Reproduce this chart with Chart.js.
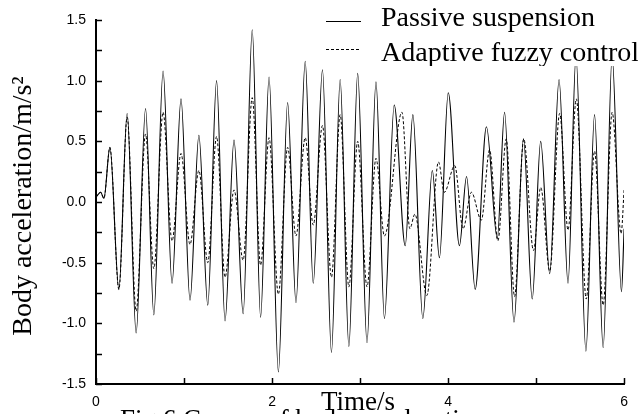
<!DOCTYPE html>
<html>
<head>
<meta charset="utf-8">
<script src="https://cdn.jsdelivr.net/npm/chart.js@4.4.0/dist/chart.umd.min.js"></script>
<style>
    body { margin: 0; background: #fff; }
    #wrap { width: 638px; height: 414px; }
</style>
</head>
<body>
<div id="wrap"><canvas id="chart" width="638" height="414"></canvas></div>
<script>
// peaks / troughs (time in s, acceleration in m/s^2)
const passiveTime = [0, 0.053, 0.09, 0.158, 0.26, 0.354, 0.456, 0.563, 0.657, 0.762, 0.864, 0.966,
    1.068, 1.169, 1.27, 1.37, 1.466, 1.568, 1.672, 1.775, 1.87, 1.966, 2.072, 2.177, 2.272, 2.377,
    2.468, 2.573, 2.675, 2.774, 2.873, 2.973, 3.079, 3.181, 3.277, 3.388, 3.513, 3.6, 3.713, 3.821,
    3.902, 4.002, 4.129, 4.21, 4.308, 4.436, 4.559, 4.642, 4.749, 4.857, 4.956, 5.052, 5.155, 5.261,
    5.363, 5.453, 5.566, 5.664, 5.762, 5.864, 5.97, 6.0];
const passiveAccel = [0.04, 0.08, 0.03, 0.45, -0.72, 0.73, -1.08, 0.77, -0.93, 1.08, -0.67, 0.85,
    -0.81, 0.55, -0.85, 1.00, -0.98, 0.51, -0.92, 1.42, -0.95, 1.03, -1.40, 0.82, -0.83, 1.16,
    -0.67, 1.09, -1.24, 1.01, -1.19, 1.06, -1.16, 0.99, -0.96, 0.80, -0.36, 0.72, -0.96, 0.26,
    -0.46, 0.90, -0.36, 0.21, -0.72, 0.62, -0.30, 0.74, -0.99, 0.52, -0.80, 0.50, -0.59, 1.01,
    -0.67, 1.20, -1.23, 0.72, -1.20, 1.20, -0.74, -0.22];

const fuzzyTime = [0, 0.053, 0.09, 0.158, 0.26, 0.354, 0.456, 0.563, 0.657, 0.762, 0.864, 0.966,
    1.068, 1.169, 1.27, 1.37, 1.466, 1.568, 1.672, 1.775, 1.87, 1.966, 2.072, 2.177, 2.272, 2.377,
    2.468, 2.573, 2.675, 2.774, 2.873, 2.973, 3.079, 3.181, 3.277, 3.476, 3.566, 3.623, 3.759, 3.891,
    3.957, 4.076, 4.17, 4.265, 4.378, 4.472, 4.566, 4.661, 4.755, 4.86, 4.97, 5.053, 5.155, 5.268,
    5.363, 5.457, 5.57, 5.664, 5.762, 5.864, 5.966, 6.0];
const fuzzyAccel = [0.04, 0.08, 0.03, 0.45, -0.72, 0.70, -0.90, 0.56, -0.55, 0.74, -0.32, 0.40,
    -0.35, 0.26, -0.50, 0.54, -0.62, 0.10, -0.48, 0.86, -0.52, 0.53, -0.76, 0.45, -0.28, 0.53,
    -0.19, 0.63, -0.62, 0.72, -0.70, 0.50, -0.70, 0.36, -0.28, 0.74, -0.22, -0.10, -0.77, 0.33,
    0.08, 0.30, -0.22, 0.08, -0.15, 0.43, -0.32, 0.52, -0.78, 0.52, -0.40, 0.12, -0.57, 0.73,
    -0.23, 0.85, -0.80, 0.42, -0.85, 0.74, -0.26, 0.10];

const seriesNames = ["Passive suspension", "Adaptive fuzzy control"];
const xTitle = "Time/s";
const yTitle = "Body acceleration/m/s\u00b2";
const caption = "Fig.6 Curves of body acceleration";

const serif = '"Liberation Serif", "Times New Roman", serif';
const sans = '"Liberation Sans", Arial, sans-serif';

function toPoints(xs, ys) {
    return xs.map((x, i) => ({ x: x, y: ys[i] }));
}

// tick marks pointing into the plot, like the original software draws them
const inwardTicks = {
    id: 'inwardTicks',
    afterDatasetsDraw(chart) {
        const ctx = chart.ctx;
        const area = chart.chartArea;
        ctx.save();
        ctx.strokeStyle = '#000';
        ctx.lineWidth = 1.5;
        const xs = chart.scales.x;
        xs.ticks.forEach((t, i) => {
            const px = Math.round(xs.getPixelForTick(i)) + 0.5;
            ctx.beginPath();
            ctx.moveTo(px, area.bottom);
            ctx.lineTo(px, area.bottom - 6);
            ctx.stroke();
        });
        const ys = chart.scales.y;
        ys.ticks.forEach((t, i) => {
            const py = Math.round(ys.getPixelForTick(i)) + 0.5;
            ctx.beginPath();
            ctx.moveTo(area.left, py);
            ctx.lineTo(area.left + 6, py);
            ctx.stroke();
        });
        ctx.restore();
    }
};

// legend box sits over the curves, plus titles and caption
const overlayText = {
    id: 'overlayText',
    afterDraw(chart) {
        const ctx = chart.ctx;
        ctx.save();
        ctx.fillStyle = '#fff';
        ctx.fillRect(318, 0, 320, 66);
        ctx.beginPath();
        ctx.rect(318, 0, 320, 66);
        ctx.clip();
        ctx.strokeStyle = '#000';
        ctx.lineWidth = 1;
        ctx.beginPath();
        ctx.moveTo(326, 21.5);
        ctx.lineTo(361, 21.5);
        ctx.stroke();
        ctx.setLineDash([3, 2]);
        ctx.beginPath();
        ctx.moveTo(326, 49.5);
        ctx.lineTo(361, 49.5);
        ctx.stroke();
        ctx.setLineDash([]);
        ctx.fillStyle = '#000';
        ctx.font = '28px ' + serif;
        ctx.textAlign = 'left';
        ctx.textBaseline = 'alphabetic';
        ctx.fillText(seriesNames[0], 381, 26);
        ctx.fillText(seriesNames[1], 381, 61);
        ctx.restore();

        ctx.save();
        ctx.fillStyle = '#000';
        ctx.font = '27px ' + serif;
        ctx.textAlign = 'left';
        ctx.fillText(caption, 120, 428);
        ctx.textAlign = 'center';
        ctx.fillText(xTitle, 358, 410);
        ctx.font = '28px ' + serif;
        ctx.translate(31, 206);
        ctx.rotate(-Math.PI / 2);
        ctx.fillText(yTitle, 0, 0);
        ctx.restore();
    }
};

const config = {
    type: 'line',
    data: {
        datasets: [{
            label: seriesNames[0],
            data: toPoints(passiveTime, passiveAccel),
            borderColor: '#000',
            borderWidth: 1.1,
            pointRadius: 0,
            cubicInterpolationMode: 'monotone',
            fill: false
        }, {
            label: seriesNames[1],
            data: toPoints(fuzzyTime, fuzzyAccel),
            borderColor: '#000',
            borderWidth: 1,
            borderDash: [3, 2],
            pointRadius: 0,
            cubicInterpolationMode: 'monotone',
            fill: false
        }]
    },
    options: {
        responsive: false,
        animation: false,
        layout: { padding: { left: 0, top: 20, right: 12, bottom: 0 } },
        plugins: {
            legend: { display: false },
            tooltip: { enabled: false }
        },
        scales: {
            x: {
                type: 'linear',
                min: 0,
                max: 6,
                grid: { display: false, drawTicks: false },
                border: { display: true, color: '#000', width: 2 },
                ticks: {
                    stepSize: 1,
                    autoSkip: false,
                    maxRotation: 0,
                    padding: 10,
                    color: '#000',
                    font: { family: sans, size: 14 },
                    callback: (v) => (v % 2 === 0 ? String(v) : '')
                },
                afterFit: (scale) => { scale.height = 30; }
            },
            y: {
                min: -1.5,
                max: 1.5,
                grid: { display: false, drawTicks: false },
                border: { display: true, color: '#000', width: 2 },
                ticks: {
                    stepSize: 0.25,
                    autoSkip: false,
                    padding: 10,
                    color: '#000',
                    font: { family: sans, size: 14 },
                    callback: (v) => (Math.abs(v * 2 - Math.round(v * 2)) < 1e-6 ? v.toFixed(1) : '')
                },
                afterFit: (scale) => { scale.width = 96; }
            }
        }
    },
    plugins: [inwardTicks, overlayText]
};

window.onload = function () {
    const ctx = document.getElementById('chart').getContext('2d');
    window.accelChart = new Chart(ctx, config);
};
</script>
</body>
</html>
